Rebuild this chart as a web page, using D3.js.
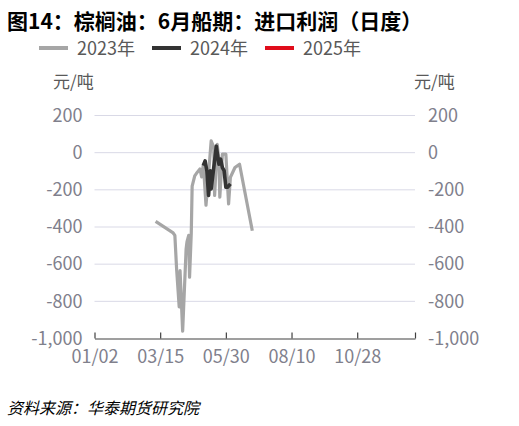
<!DOCTYPE html>
<html lang="zh">
<head>
<meta charset="utf-8">
<script src="https://d3js.org/d3.v7.min.js"></script>
<style>
  body { margin: 0; background: #fff; }
  text { font-family: "Noto Sans CJK SC", "Noto Sans", sans-serif; }
</style>
</head>
<body>
<svg width="519" height="426"></svg>
<script>
    // data (month/day, 元/吨)
    var years = ["2023年", "2024年", "2025年"];
    var colors = ["#a6a6a6", "#333333", "#e00d1b"];

    var dates2023 = ["03/10","03/30","04/01","04/03","04/06","04/07","04/10","04/14","04/15","04/17",
                     "04/18","04/20","04/21","04/24","04/27","04/30","05/02","05/04","05/07","05/10",
                     "05/13","05/16","05/17","05/20","05/22","05/23","05/26","05/30","06/02","06/04",
                     "06/09","06/14","06/28"];
    var values2023 = [-370,-432,-445,-625,-830,-635,-960,-520,-480,-445,
                      -670,-430,-180,-125,-105,-88,-130,-62,-283,-115,
                      63,30,-230,45,-40,-240,-8,-8,-276,-132,
                      -80,-62,-420];

    var dates2024 = ["05/04","05/06","05/08","05/10","05/12","05/13","05/16","05/19","05/20","05/22",
                     "05/24","05/26","05/28","05/30","06/01","06/04"];
    var values2024 = [-70,-44,-97,-230,-97,-195,-80,35,0,-62,
                      -35,-80,-97,-186,-186,-168];

    var dates2025 = [];
    var values2025 = [];

    var xTicks = ["01/02", "03/15", "05/30", "08/10", "10/28"];
    var xEnd = "12/31";
    var yTicks = [200, 0, -200, -400, -600, -800, -1000];

    var svg = d3.select("svg");
    var pLeft = 94.5, pRight = 415, pTop = 115.5, pBottom = 338.5;

    var parse = d3.timeParse("%m/%d/%Y");
    function day(s) { return parse(s + "/2001"); }

    // the axis has evenly spaced labels, so stretch between them piecewise
    var stops = xTicks.concat([xEnd]);
    var step = (pRight - pLeft) / (stops.length - 1 - 0.12);
    var x = d3.scaleTime()
        .domain(stops.map(day))
        .range(stops.map(function (d, i) { return i < stops.length - 1 ? pLeft + i * step : pRight; }));
    var y = d3.scaleLinear().domain([-1000, 200]).range([pBottom, pTop]);

    var fmt = d3.formatLocale({decimal: ".", thousands: ",", grouping: [3], currency: ["", ""], minus: "-"}).format(",");

    // grid
    svg.append("g")
        .selectAll("line")
        .data(yTicks.slice(0, -1))
        .enter()
        .append("line")
        .attr("x1", pLeft).attr("x2", pRight)
        .attr("y1", function (d) { return y(d); })
        .attr("y2", function (d) { return y(d); })
        .attr("stroke", "#d9d9e6")
        .attr("stroke-width", 1);

    // y labels, both sides
    var yl = svg.append("g")
        .attr("transform", "translate(" + (pLeft - 12) + ",0)")
        .call(d3.axisLeft(y).tickValues(yTicks).tickSize(0).tickPadding(0).tickFormat(fmt));
    var yr = svg.append("g")
        .attr("transform", "translate(" + (pRight + 13) + ",0)")
        .call(d3.axisRight(y).tickValues(yTicks).tickSize(0).tickPadding(0).tickFormat(fmt));
    [yl, yr].forEach(function (g) {
        g.select(".domain").remove();
        g.selectAll("text")
            .attr("fill", "#80808c")
            .style("font-size", "18px")
            .style("font-family", "'Noto Sans CJK SC', sans-serif");
    });

    // x axis, ticks pointing up into the plot
    var xa = svg.append("g")
        .attr("transform", "translate(0," + pBottom + ")")
        .call(d3.axisBottom(x)
            .tickValues(stops.map(day))
            .tickSize(-6)
            .tickSizeOuter(0)
            .tickPadding(12)
            .tickFormat(function (d) { var s = d3.timeFormat("%m/%d")(d); return s === xEnd ? "" : s; }));
    xa.select(".domain").attr("stroke", "#404040").attr("stroke-width", 1.2);
    xa.selectAll(".tick line").attr("stroke", "#404040").attr("stroke-width", 1.2);
    xa.selectAll("text")
        .attr("fill", "#80808c")
        .style("font-size", "18px")
        .style("font-family", "'Noto Sans CJK SC', sans-serif");

    // series
    var series = [
        {dates: dates2023, values: values2023, width: 3.2},
        {dates: dates2024, values: values2024, width: 3.6},
        {dates: dates2025, values: values2025, width: 3.6}
    ];
    var line = d3.line()
        .x(function (d) { return x(day(d[0])); })
        .y(function (d) { return y(d[1]); });

    series.forEach(function (s, i) {
        var pts = d3.zip(s.dates, s.values);
        if (!pts.length) return;
        svg.append("path")
            .datum(pts)
            .attr("d", line)
            .attr("fill", "none")
            .attr("stroke", colors[i])
            .attr("stroke-width", s.width)
            .attr("stroke-linejoin", "round");
    });

    // title
    svg.append("text")
        .attr("x", 7).attr("y", 29)
        .style("font-size", "21px")
        .style("font-weight", "bold")
        .attr("fill", "#000")
        .text("图14：棕榈油：6月船期：进口利润（日度）");

    // legend
    var lg = svg.append("g").attr("transform", "translate(39,48)");
    var lx = [0, 113, 226];
    years.forEach(function (t, i) {
        lg.append("line")
            .attr("x1", lx[i]).attr("x2", lx[i] + 29)
            .attr("stroke", colors[i]).attr("stroke-width", 4);
        lg.append("text")
            .attr("x", lx[i] + 38).attr("y", 6.5)
            .style("font-size", "18px")
            .attr("fill", "#595959")
            .text(t);
    });

    // units
    svg.append("text").attr("x", 53).attr("y", 88).style("font-size", "17px").attr("fill", "#595959").text("元/吨");
    svg.append("text").attr("x", 414).attr("y", 88).style("font-size", "17px").attr("fill", "#595959").text("元/吨");

    // source
    svg.append("text")
        .attr("x", 7).attr("y", 414)
        .style("font-size", "16px")
        .style("font-style", "italic")
        .attr("fill", "#000")
        .text("资料来源：华泰期货研究院");
</script>
</body>
</html>
